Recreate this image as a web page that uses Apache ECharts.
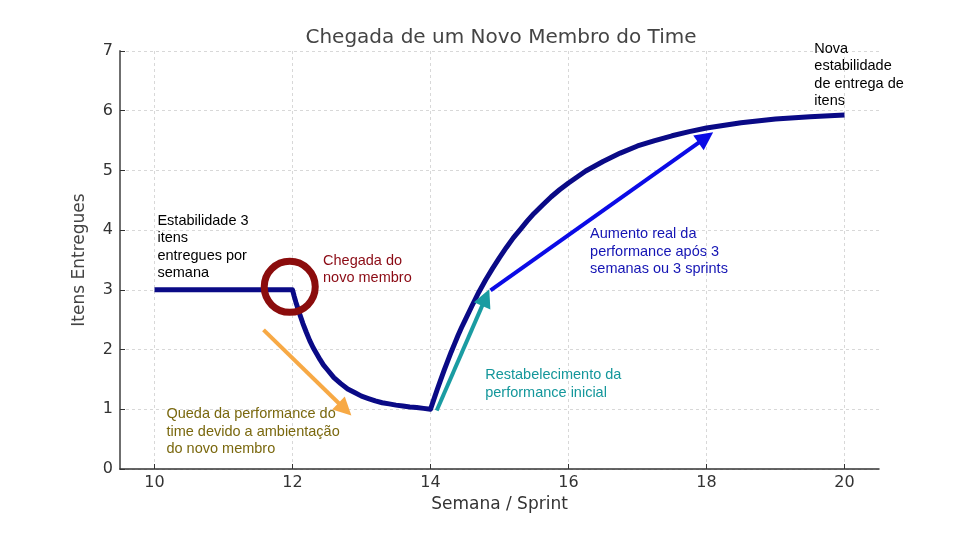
<!DOCTYPE html>
<html>
<head>
<meta charset="utf-8">
<script src="https://cdn.jsdelivr.net/npm/echarts@6/dist/echarts.min.js"></script>
<style>
  html, body { margin: 0; padding: 0; background: #fff; }
  #chart { width: 960px; height: 540px; }
</style>
</head>
<body>
<div id="chart"></div>
<script>
// values
const weeks = [10, 11, 12,
  12.025, 12.05, 12.075, 12.1, 12.15, 12.2, 12.25, 12.3, 12.35, 12.4, 12.45, 12.5, 12.6, 12.7, 12.8, 12.9,
  13, 13.1, 13.2, 13.3, 13.4, 13.5, 13.6, 13.7, 13.8, 13.9, 14,
  14.05, 14.1, 14.15, 14.2, 14.25, 14.3, 14.35, 14.4, 14.45, 14.5, 14.6, 14.7, 14.8, 14.9,
  15, 15.1, 15.2, 15.3, 15.4, 15.5, 15.625, 15.75, 15.875,
  16, 16.25, 16.5, 16.75, 17, 17.25, 17.5, 17.75, 18, 18.5, 19, 19.5, 20];
const itemsDelivered = [3, 3, 3,
  2.89, 2.79, 2.7, 2.61, 2.44, 2.29, 2.15, 2.03, 1.93, 1.83, 1.74, 1.67, 1.53, 1.43, 1.34, 1.28,
  1.22, 1.18, 1.14, 1.11, 1.09, 1.07, 1.055, 1.04, 1.03, 1.015, 1,
  1.17, 1.34, 1.5, 1.66, 1.81, 1.96, 2.1, 2.24, 2.37, 2.49, 2.73, 2.96, 3.17, 3.36,
  3.54, 3.71, 3.87, 4.01, 4.15, 4.28, 4.42, 4.56, 4.68,
  4.79, 4.99, 5.15, 5.29, 5.41, 5.5, 5.58, 5.65, 5.71, 5.8, 5.86, 5.9, 5.93];
const xTicks = [10, 12, 14, 16, 18, 20];
const yTicks = [0, 1, 2, 3, 4, 5, 6, 7];

// annotation anchors (data units)
const arrivalPoint = [11.96, 3.05];
const notes = [
  { at: [10.05, 4.3], text: 'Estabilidade 3\nitens\nentregues por\nsemana', color: '#000' },
  { at: [12.45, 3.63], text: 'Chegada do\nnovo membro', color: '#8b0a14' },
  { at: [10.18, 1.06], text: 'Queda da performance do\ntime devido a ambientação\ndo novo membro', color: '#7a680e' },
  { at: [14.8, 1.71], text: 'Restabelecimento da\nperformance inicial', color: '#14979b' },
  { at: [16.32, 4.07], text: 'Aumento real da\nperformance após 3\nsemanas ou 3 sprints', color: '#1414b4' },
  { at: [19.57, 7.18], text: 'Nova\nestabilidade\nde entrega de\nitens', color: '#000' },
];
const arrows = [
  { from: [11.58, 2.33], to: [12.76, 1.0], color: '#f7a945' },
  { from: [14.09, 0.98], to: [14.8, 2.87], color: '#1a9ca2' },
  { from: [14.87, 2.99], to: [17.99, 5.55], color: '#0b0be6' },
];

const tickFont = { fontFamily: 'DejaVu Sans', fontSize: 16, color: '#333' };
const noteFont = 'Liberation Sans';

const chart = echarts.init(document.getElementById('chart'), null, { renderer: 'canvas' });

const option = {
  animation: false,
  backgroundColor: '#fff',
  title: {
    text: 'Chegada de um Novo Membro do Time',
    left: 496, top: 23, textAlign: 'center',
    textStyle: { fontFamily: 'DejaVu Sans', fontSize: 20, fontWeight: 'normal', color: '#444' },
  },
  grid: { left: 120, right: 81, top: 51, bottom: 71, containLabel: false },
  xAxis: {
    type: 'value',
    min: 9.5,
    max: 20.5,
    name: 'Semana / Sprint',
    nameLocation: 'middle',
    nameGap: 25,
    nameTextStyle: { fontFamily: 'DejaVu Sans', fontSize: 17, color: '#333' },
    axisLine: { lineStyle: { color: '#333', width: 1.5 } },
    axisTick: { show: true, inside: true, length: 5, customValues: xTicks, lineStyle: { color: '#333' } },
    axisLabel: { ...tickFont, margin: 6, customValues: xTicks },
    splitLine: { show: true, lineStyle: { color: '#d8d8d8', type: [3, 3], width: 1 } },
  },
  yAxis: {
    type: 'value',
    min: 0,
    max: 7,
    interval: 1,
    name: 'Itens Entregues',
    nameLocation: 'middle',
    nameGap: 32,
    nameTextStyle: { fontFamily: 'DejaVu Sans', fontSize: 17, color: '#444' },
    axisLine: { show: true, lineStyle: { color: '#6f6f6f', width: 2 } },
    axisTick: { show: true, inside: true, length: 5, lineStyle: { color: '#333' } },
    axisLabel: { ...tickFont, margin: 7, customValues: yTicks },
    splitLine: { show: true, lineStyle: { color: '#d8d8d8', type: [3, 3], width: 1 } },
  },
  series: [
    {
      name: 'Itens Entregues',
      type: 'line',
      data: weeks.map((w, i) => [w, itemsDelivered[i]]),
      showSymbol: false,
      smooth: false,
      lineStyle: { color: '#0a0a86', width: 5, join: 'round', cap: 'butt' },
      z: 2,
    },
    {
      name: 'chegada',
      type: 'scatter',
      data: [arrivalPoint],
      symbol: 'circle',
      symbolSize: 51,
      itemStyle: { color: 'rgba(0,0,0,0)', borderColor: '#8b0c0c', borderWidth: 7, opacity: 1 },
      silent: true,
      z: 3,
    },
    {
      name: 'setas',
      type: 'line',
      data: [],
      silent: true,
      z: 4,
      markLine: {
        silent: true,
        animation: false,
        symbol: ['none', 'triangle'],
        symbolSize: 18,
        label: { show: false },
        emphasis: { disabled: true },
        data: arrows.map(a => [
          { coord: a.from, lineStyle: { color: a.color, width: 4, type: 'solid', opacity: 1 }, itemStyle: { color: a.color } },
          { coord: a.to, itemStyle: { color: a.color } },
        ]),
      },
    },
    {
      name: 'notas',
      type: 'scatter',
      clip: false,
      silent: true,
      symbolSize: 1,
      itemStyle: { color: 'rgba(0,0,0,0)', opacity: 1 },
      z: 5,
      data: notes.map(n => ({
        value: n.at,
        label: {
          show: true,
          formatter: n.text,
          position: [0, 0],
          align: 'left',
          verticalAlign: 'top',
          fontFamily: noteFont,
          fontSize: 14.5,
          lineHeight: 17.6,
          color: n.color,
          opacity: 1,
        },
      })),
    },
  ],
};

chart.setOption(option);
</script>
</body>
</html>
